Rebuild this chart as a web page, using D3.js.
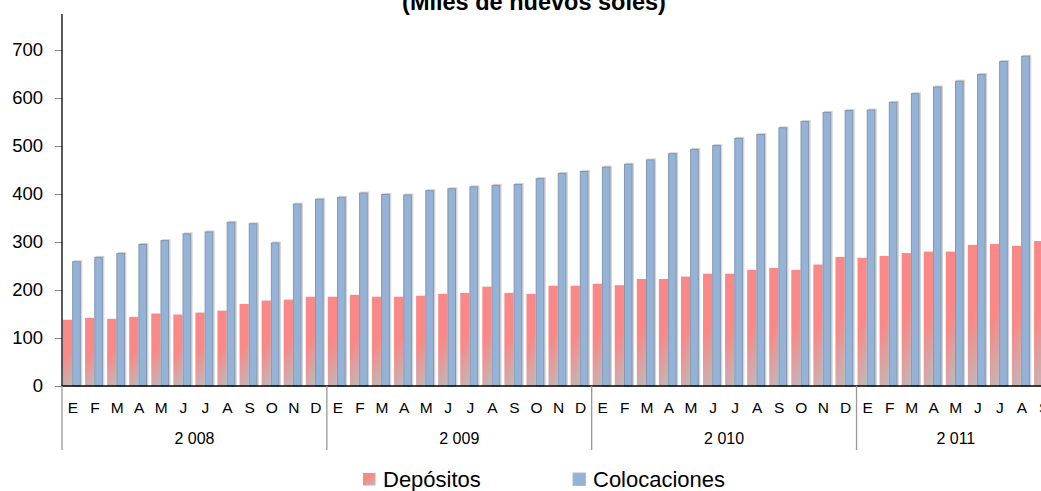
<!DOCTYPE html>
<html>
<head>
<meta charset="utf-8">
<script src="https://cdn.jsdelivr.net/npm/d3@7"></script>
<style>
  html, body { margin: 0; padding: 0; background: #fff; }
  svg { display: block; font-family: "Liberation Sans", Arial, sans-serif; }
</style>
</head>
<body>
<svg id="chart" width="1041" height="491"></svg>
<script>
// Monthly balances, thousands of nuevos soles
const years = ["2 008", "2 009", "2 010", "2 011"];
const monthsPerYear = [12, 12, 12, 9];
const monthLetters = ["E", "F", "M", "A", "M", "J", "J", "A", "S", "O", "N", "D"];

const depositos = [
  138, 142, 140, 144, 151, 149, 153, 157, 171, 178, 180, 186,
  186, 190, 186, 186, 188, 192, 194, 207, 194, 192, 209, 209,
  213, 210, 223, 223, 228, 234, 234, 242, 246, 242, 253, 269,
  267, 271, 277, 280, 280, 294, 296, 292, 302
];
const colocaciones = [
  260, 269, 277, 296, 304, 318, 322, 342, 339, 299, 380, 390,
  394, 403, 400, 399, 408, 412, 416, 419, 421, 433, 444, 448,
  457, 463, 472, 485, 494, 502, 517, 525, 539, 552, 571, 575,
  576, 592, 610, 624, 636, 650, 677, 688, 698
];
const yTicks = [0, 100, 200, 300, 400, 500, 600, 700];
const seriesNames = ["Depósitos", "Colocaciones"];

// one record per month
const rows = [];
years.forEach((yr, yi) => {
  for (let m = 0; m < monthsPerYear[yi]; m++) {
    const i = rows.length;
    rows.push({ key: yr + "-" + m, year: yr, month: monthLetters[m],
                dep: depositos[i], col: colocaciones[i] });
  }
});

const svg = d3.select("#chart");
const x0 = 62, monthW = 22.07;
const x = d3.scaleBand()
  .domain(rows.map(d => d.key))
  .range([x0, x0 + rows.length * monthW])
  .paddingInner(0).paddingOuter(0);
const y = d3.scaleLinear().domain([0, 700]).range([386, 50]);

// gradient for the deposit bars
const defs = svg.append("defs");
const grad = defs.append("linearGradient").attr("id", "depGrad")
  .attr("x1", 0).attr("y1", 0.5).attr("x2", 0.15).attr("y2", 1.18);
grad.append("stop").attr("offset", 0).attr("stop-color", "#F98886");
grad.append("stop").attr("offset", 0.15).attr("stop-color", "#F98886");
grad.append("stop").attr("offset", 1).attr("stop-color", "#BDBBBB");

const legGrad = defs.append("linearGradient").attr("id", "legGrad")
  .attr("x1", 0).attr("y1", 0).attr("x2", 1).attr("y2", 1);
legGrad.append("stop").attr("offset", 0).attr("stop-color", "#F98886");
legGrad.append("stop").attr("offset", 0.35).attr("stop-color", "#F98886");
legGrad.append("stop").attr("offset", 1).attr("stop-color", "#BDBBBB");

// title (second line)
svg.append("text")
  .attr("x", 534).attr("y", 9.5)
  .attr("text-anchor", "middle")
  .attr("font-size", 23.5).attr("font-weight", "bold")
  .attr("fill", "#000")
  .text("(Miles de nuevos soles)");

// y axis
const yAxis = d3.axisLeft(y).tickValues(yTicks).tickSize(7).tickPadding(12).tickFormat(d3.format("d"));
const gy = svg.append("g").attr("transform", `translate(${x0},0)`).call(yAxis);
gy.select(".domain").remove();
gy.selectAll(".tick line").attr("stroke", "#888");
gy.selectAll(".tick text").attr("font-size", 18.5).attr("fill", "#000")
  .attr("font-family", "Liberation Sans, Arial, sans-serif");
svg.append("line").attr("x1", x0).attr("x2", x0).attr("y1", 14).attr("y2", y(0))
  .attr("stroke", "#000").attr("stroke-width", 1.3);

// bars
const redW = 9.2, blueW = 8.6;
const bars = svg.append("g");
bars.selectAll("rect.dep").data(rows).join("rect")
  .attr("class", "dep")
  .attr("x", d => x(d.key) + 1)
  .attr("width", redW)
  .attr("y", d => y(d.dep))
  .attr("height", d => y(0) - y(d.dep))
  .attr("fill", "url(#depGrad)");

bars.selectAll("rect.colShadow").data(rows).join("rect")
  .attr("class", "colShadow")
  .attr("x", d => x(d.key) + 1 + redW + 1.5)
  .attr("width", blueW)
  .attr("y", d => y(d.col) - 1)
  .attr("height", d => y(0) - y(d.col) + 1)
  .attr("fill", "#d4d4d4");

bars.selectAll("rect.col").data(rows).join("rect")
  .attr("class", "col")
  .attr("x", d => x(d.key) + 1 + redW + 0.5)
  .attr("width", blueW - 1)
  .attr("y", d => y(d.col) + 0.5)
  .attr("height", d => y(0) - y(d.col) - 0.5)
  .attr("fill", "#95B3D7")
  .attr("stroke", "#8496AE")
  .attr("stroke-width", 1);

// x axis line
svg.append("line").attr("x1", x0).attr("x2", 1041).attr("y1", y(0)).attr("y2", y(0))
  .attr("stroke", "#000").attr("stroke-width", 1.5);

// month letters
svg.append("g").selectAll("text").data(rows).join("text")
  .attr("x", d => x(d.key) + x.bandwidth() / 2)
  .attr("y", 413)
  .attr("text-anchor", "middle")
  .attr("font-size", 15.5).attr("fill", "#000")
  .text(d => d.month);

// year groups: separators and labels
const groups = years.map(yr => {
  const keys = rows.filter(r => r.year === yr).map(r => r.key);
  return { year: yr, start: x(keys[0]), end: x(keys[keys.length - 1]) + x.bandwidth() };
});
svg.append("g").selectAll("line").data(groups.map(g => g.start).concat([groups[groups.length - 1].end]))
  .join("line")
  .attr("x1", d => d).attr("x2", d => d)
  .attr("y1", y(0)).attr("y2", 450)
  .attr("stroke", "#999").attr("stroke-width", 1.3);
svg.append("g").selectAll("text").data(groups).join("text")
  .attr("x", d => (d.start + d.end) / 2)
  .attr("y", 444)
  .attr("text-anchor", "middle")
  .attr("font-size", 16).attr("fill", "#000")
  .text(d => d.year);

// legend
const legend = svg.append("g");
const legItems = [
  { name: seriesNames[0], sx: 363, tx: 383, fill: "url(#legGrad)", stroke: "none" },
  { name: seriesNames[1], sx: 573, tx: 593, fill: "#95B3D7", stroke: "#a9bcd4" }
];
legend.selectAll("rect").data(legItems).join("rect")
  .attr("x", d => d.sx).attr("y", 473).attr("width", 12.5).attr("height", 12.5)
  .attr("fill", d => d.fill).attr("stroke", d => d.stroke);
legend.selectAll("text").data(legItems).join("text")
  .attr("x", d => d.tx).attr("y", 487)
  .attr("font-size", 22).attr("fill", "#000")
  .text(d => d.name);
</script>
</body>
</html>
